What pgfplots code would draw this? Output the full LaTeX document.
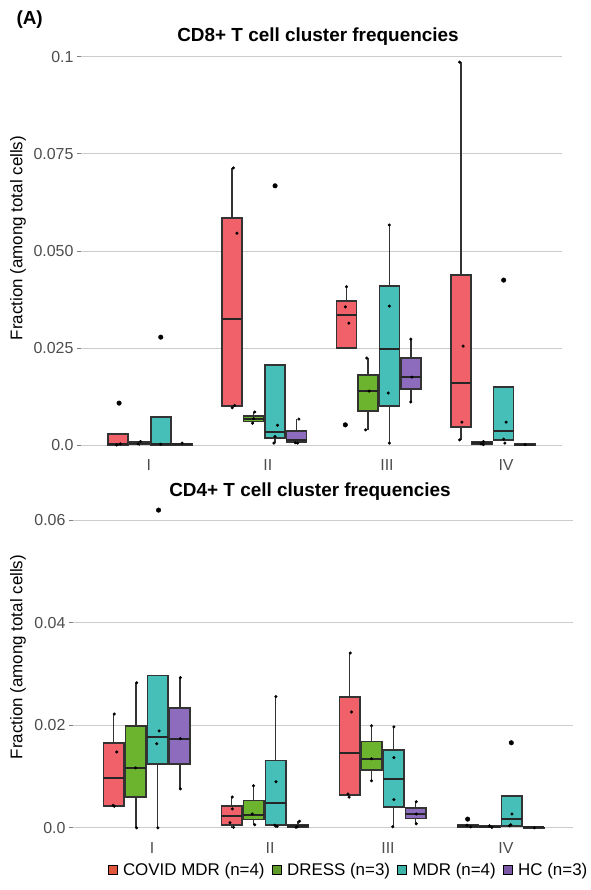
\documentclass[border=0pt]{standalone}
\usepackage{fontspec}
\setmainfont{Liberation Sans}
\usepackage{pgfplots}
\pgfplotsset{compat=1.18}

\definecolor{cred}{HTML}{F0616A}
\definecolor{cgreen}{HTML}{6CB42E}
\definecolor{cteal}{HTML}{46BFB9}
\definecolor{cpurple}{HTML}{8D6CBE}
\definecolor{lred}{HTML}{E0563C}
\definecolor{lgreen}{HTML}{5E9B2B}
\definecolor{lteal}{HTML}{3BB3A6}
\definecolor{lpurple}{HTML}{7B58A5}
\definecolor{boxline}{HTML}{333333}
\definecolor{ticktext}{HTML}{4D4D4D}

% one box: colour, position, lower whisker, q1, median, q3, upper whisker
% (\bw = half box width, set per panel)
\newcommand{\bx}[7]{%
  \pgfmathsetmacro\xl{#2-\bw}\pgfmathsetmacro\xr{#2+\bw}%
  \edef\tmp{%
    \noexpand\addplot[wsk] coordinates {(#2,#3) (#2,#4)};
    \noexpand\addplot[wsk] coordinates {(#2,#6) (#2,#7)};
    \noexpand\addplot[bxs, fill=#1] coordinates {(\xl,#4) (\xr,#4) (\xr,#6) (\xl,#6)} --cycle;
    \noexpand\addplot[med] coordinates {(\xl,#5) (\xr,#5)};
  }\tmp}

\pgfplotsset{
  panel/.style={scale only axis, axis line style={draw=none},
    ymajorgrids, grid style={draw=black!20, line width=1bp},
    xtick={1,2,3,4}, xticklabels={I,II,III,IV}, xtick style={draw=none},
    ytick style={draw=black!50, line width=1bp}, tick align=outside,
    major tick length=4bp, ytick pos=left, xtick pos=bottom, scaled y ticks=false,
    tick label style={font=\fontsize{16}{16}\selectfont, text=ticktext},
    /pgf/number format/assume math mode=true},
  bxs/.style={draw=boxline, line width=1.5bp, line join=miter},
  wsk/.style={draw=boxline, line width=1.5bp},
  med/.style={draw=black!85, line width=1.9bp},
  pts/.style={only marks, mark=*, mark size=1.35pt, black},
  outl/.style={only marks, mark=*, mark size=2.3pt, black},
  sqlegend/.style={legend image code/.code={\fill[##1] (0bp,-4.5bp) rectangle (9bp,4.5bp);}},
}

\begin{document}
\begin{tikzpicture}
\path[use as bounding box] (0,0) rectangle (591bp,-890bp);

% CD8+ panel
\def\bw{0.084}
\begin{axis}[panel, at={(81bp,-452bp)}, anchor=south west, width=481bp, height=402bp,
  xmin=0.43, xmax=4.47, ymin=-0.0018, ymax=0.1018,
  ytick={0,0.025,0.05,0.075,0.1}, yticklabels={0.0,0.025,0.050,0.075,0.1}]
\bx{cred}{0.74}{0}{0}{0.0003}{0.0028}{0.0028}
\bx{cred}{1.70}{0.0098}{0.0100}{0.0325}{0.0585}{0.0714}
\bx{cred}{2.66}{0.0250}{0.0250}{0.0335}{0.0371}{0.0408}
\bx{cred}{3.62}{0.0013}{0.0046}{0.0160}{0.0438}{0.0987}
\bx{cgreen}{0.92}{0}{0.0001}{0.0004}{0.0008}{0.0010}
\bx{cgreen}{1.88}{0.0055}{0.0060}{0.0068}{0.0075}{0.0085}
\bx{cgreen}{2.84}{0.0039}{0.0088}{0.0139}{0.0180}{0.0224}
\bx{cgreen}{3.80}{0.0001}{0.0002}{0.0005}{0.0008}{0.0009}
\bx{cteal}{1.10}{0}{0}{0.0002}{0.0072}{0.0072}
\bx{cteal}{2.06}{0.0005}{0.0018}{0.0034}{0.0206}{0.0206}
\bx{cteal}{3.02}{0.0005}{0.0100}{0.0247}{0.0410}{0.0567}
\bx{cteal}{3.98}{0.0013}{0.0013}{0.0036}{0.0150}{0.0150}
\bx{cpurple}{1.28}{0}{0}{0.0002}{0.0004}{0.0005}
\bx{cpurple}{2.24}{0.0003}{0.0008}{0.0012}{0.0036}{0.0067}
\bx{cpurple}{3.20}{0.0111}{0.0144}{0.0175}{0.0224}{0.0273}
\bx{cpurple}{4.16}{0}{0}{0.0001}{0.0002}{0.0002}
\addplot[pts] coordinates {
(0.73,0) (0.76,0.0003)
(1.71,0.0714) (1.74,0.0546) (1.70,0.0096) (1.72,0.0102)
(2.66,0.0408) (2.65,0.0356) (2.68,0.0314)
(3.61,0.0987) (3.64,0.0255) (3.63,0.0059) (3.61,0.0013)
(0.93,0.0009) (0.91,0.0003)
(1.89,0.0085) (1.88,0.0068) (1.87,0.0056)
(2.83,0.0224) (2.85,0.0139) (2.82,0.0039)
(3.81,0.0009) (3.79,0.0003) (3.81,0.0001)
(1.10,0.0002)
(2.08,0.0051) (2.06,0.0022) (2.05,0.0005)
(3.02,0.0567) (3.02,0.0358) (3.01,0.0134) (3.02,0.0005)
(4.00,0.0059) (3.98,0.0015) (3.99,0.0005)
(1.28,0.0005)
(2.26,0.0067) (2.23,0.0006) (2.25,0.0005)
(3.20,0.0273) (3.21,0.0175) (3.20,0.0111)
(4.16,0.0001)
};
\addplot[outl] coordinates {(0.75,0.0108) (2.65,0.0052) (1.10,0.0278) (2.06,0.0668) (3.98,0.0425)};
\end{axis}

% CD4+ panel
\def\bw{0.0875}
\begin{axis}[panel, at={(73bp,-835bp)}, anchor=south west, width=500bp, height=330bp,
  xmin=0.33, xmax=4.568, ymin=-0.0014, ymax=0.0630,
  ytick={0,0.02,0.04,0.06}, yticklabels={0.0,0.02,0.04,0.06},
  sqlegend, legend columns=4,
  legend style={at={(0.549,-0.106)}, anchor=center, draw=none, fill=none,
    font=\fontsize{17}{17}\selectfont, inner sep=0pt, nodes={inner xsep=0bp, inner ysep=1bp},
    /tikz/every odd column/.style={column sep=6bp},
    /tikz/every even column/.style={column sep=7bp}}]
\addlegendimage{fill=lred}\addlegendentry{COVID MDR (n=4)}
\addlegendimage{fill=lgreen}\addlegendentry{DRESS (n=3)}
\addlegendimage{fill=lteal}\addlegendentry{MDR (n=4)}
\addlegendimage{fill=lpurple}\addlegendentry{HC (n=3)}
\bx{cred}{0.675}{0.0043}{0.0043}{0.0098}{0.0166}{0.0222}
\bx{cred}{1.675}{0}{0.0006}{0.0023}{0.0043}{0.0060}
\bx{cred}{2.675}{0.0062}{0.0064}{0.0146}{0.0255}{0.0341}
\bx{cred}{3.675}{0.0001}{0.0001}{0.0003}{0.0006}{0.0006}
\bx{cgreen}{0.862}{0}{0.0060}{0.0117}{0.0199}{0.0283}
\bx{cgreen}{1.862}{0.0006}{0.0016}{0.0025}{0.0053}{0.0082}
\bx{cgreen}{2.862}{0.0092}{0.0113}{0.0135}{0.0168}{0.0199}
\bx{cgreen}{3.862}{0}{0.0001}{0.0002}{0.0004}{0.0004}
\bx{cteal}{1.048}{0}{0.0125}{0.0178}{0.0297}{0.0297}
\bx{cteal}{2.048}{0}{0.0006}{0.0049}{0.0131}{0.0256}
\bx{cteal}{3.048}{0.0002}{0.0041}{0.0096}{0.0152}{0.0197}
\bx{cteal}{4.048}{0.0004}{0.0004}{0.0017}{0.0062}{0.0062}
\bx{cpurple}{1.235}{0.0076}{0.0125}{0.0174}{0.0234}{0.0293}
\bx{cpurple}{2.235}{0}{0.0001}{0.0003}{0.0007}{0.0013}
\bx{cpurple}{3.235}{0.0008}{0.0018}{0.0027}{0.0039}{0.0051}
\bx{cpurple}{4.235}{0}{0}{0.0001}{0.0001}{0.0001}
\addplot[pts] coordinates {
(0.68,0.0222) (0.70,0.0148) (0.67,0.0044) (0.68,0.0042)
(1.68,0.0060) (1.68,0.0037) (1.66,0.0010) (1.69,0.0001)
(2.68,0.0341) (2.69,0.0226) (2.66,0.0066) (2.67,0.0060)
(3.67,0.0005) (3.70,0.0002)
(0.87,0.0283) (0.86,0.0117) (0.87,0)
(1.86,0.0082) (1.85,0.0027) (1.87,0.0006)
(2.86,0.0199) (2.86,0.0135) (2.86,0.0092)
(3.86,0.0004) (3.88,0.0001)
(1.06,0.0189) (1.04,0.0164) (1.05,0)
(2.05,0.0256) (2.05,0.0090) (2.04,0.0005) (2.06,0.0003)
(3.05,0.0197) (3.05,0.0137) (3.05,0.0055) (3.04,0.0002)
(4.05,0.0027) (4.04,0.0006) (4.03,0.0004)
(1.24,0.0293) (1.24,0.0174) (1.24,0.0076)
(2.25,0.0013) (2.23,0.0002) (2.22,0.0001)
(3.24,0.0051) (3.24,0.0027) (3.24,0.0008)
(4.24,0)
};
\addplot[outl] coordinates {(1.055,0.0620) (3.675,0.0017) (4.045,0.0166)};
\end{axis}

\node[anchor=west, font=\bfseries\fontsize{19}{19}\selectfont] at (13bp,-20bp) {(A)};
\node[font=\bfseries\fontsize{19}{19}\selectfont] at (318bp,-37bp) {CD8+ T cell cluster frequencies};
\node[font=\bfseries\fontsize{19}{19}\selectfont] at (310bp,-492bp) {CD4+ T cell cluster frequencies};
\node[rotate=90, font=\fontsize{17}{17}\selectfont] at (18bp,-238bp) {Fraction (among total cells)};
\node[rotate=90, font=\fontsize{17}{17}\selectfont] at (18bp,-657bp) {Fraction (among total cells)};
\end{tikzpicture}
\end{document}
